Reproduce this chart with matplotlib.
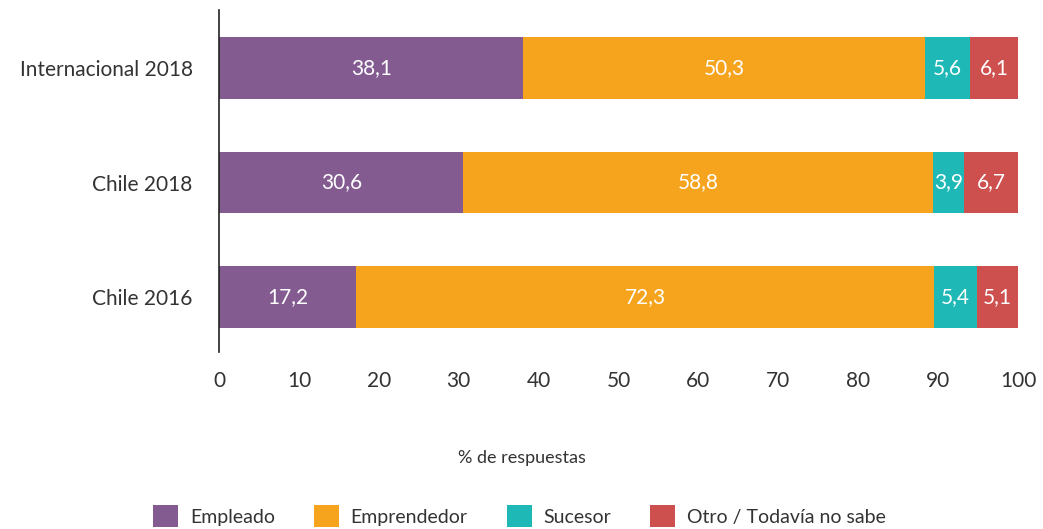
import matplotlib
matplotlib.use("Agg")
import matplotlib.pyplot as plt
from matplotlib.patches import Patch

categories = ["Internacional 2018", "Chile 2018", "Chile 2016"]
series_names = ["Empleado", "Emprendedor", "Sucesor", "Otro / Todavía no sabe"]
empleado = [38.1, 30.6, 17.2]
emprendedor = [50.3, 58.8, 72.3]
sucesor = [5.6, 3.9, 5.4]
otro = [6.1, 6.7, 5.1]
colors = ["#835B91", "#F6A41E", "#1EB9B6", "#CD4F4E"]
xticks = [0, 10, 20, 30, 40, 50, 60, 70, 80, 90, 100]

plt.rcParams['font.family'] = ['Lato', 'DejaVu Sans']
txt = "#333333"

fig = plt.figure(figsize=(10.43, 5.29), dpi=100)
ax = fig.add_axes([219/1043, 1-352/529, (1018-219)/1043, (352-10)/529])

ypos = list(range(len(categories)))
left = [0.0]*len(categories)
for vals, name, c in zip([empleado, emprendedor, sucesor, otro], series_names, colors):
    bars = ax.barh(ypos, vals, left=left, height=0.54, color=c, label=name)
    for y, v, l in zip(ypos, vals, left):
        ax.text(l + v/2, y, f"{v:.1f}".replace(".", ","), ha="center", va="center",
                color="white", fontsize=15)
    left = [a+b for a, b in zip(left, vals)]

ax.set_ylim(2.48, -0.507)
ax.set_xlim(0, 100)
ax.set_yticks(ypos)
ax.set_yticklabels(categories, fontsize=15, color=txt)
ax.set_xticks(xticks)
ax.set_xticklabels([str(t) for t in xticks], fontsize=15, color=txt)
ax.tick_params(axis="both", length=0)
ax.tick_params(axis="y", pad=19)
ax.tick_params(axis="x", pad=14)
for s in ["top", "right", "bottom"]:
    ax.spines[s].set_visible(False)
ax.spines["left"].set_color("#222222")
ax.spines["left"].set_linewidth(1.2)

fig.text(0.5, 1-458/529, "% de respuestas", ha="center", va="center", fontsize=13, color=txt)

handles = [Patch(facecolor=c, edgecolor="none") for c in colors]
fig.legend(handles, series_names, loc="center", bbox_to_anchor=(0.498, 1-516/529), ncol=4,
           frameon=False, fontsize=14, handlelength=1.3, handleheight=1.3,
           columnspacing=2.0, handletextpad=0.6, labelcolor=txt)

fig.savefig("out.png", dpi=100)
